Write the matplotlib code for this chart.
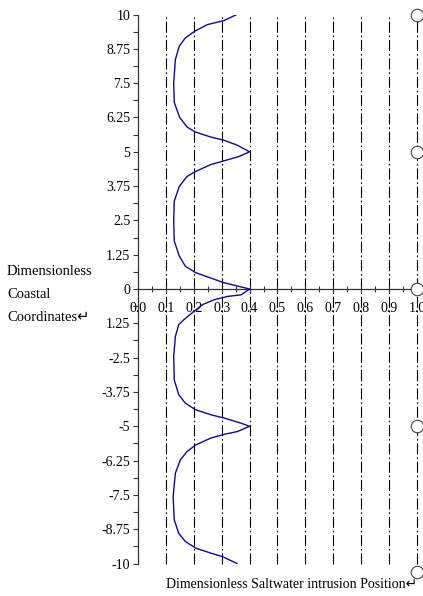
import numpy as np
import matplotlib
matplotlib.use("Agg")
import matplotlib.pyplot as plt
from matplotlib.ticker import FixedLocator, FixedFormatter, MultipleLocator

plt.rcParams["font.family"] = ["Liberation Serif", "DejaVu Sans"]

# curve (x = intrusion position, y = coastal coordinate)
curve_x = [0.354, 0.308, 0.248, 0.203, 0.170, 0.148, 0.134, 0.128, 0.130, 0.149,
           0.176, 0.206, 0.260, 0.308, 0.356, 0.400,
           0.360, 0.308, 0.260, 0.206, 0.176, 0.148, 0.130, 0.128, 0.130, 0.148,
           0.170, 0.206, 0.308, 0.400,
           0.370, 0.321, 0.273, 0.231, 0.200, 0.164, 0.146, 0.134, 0.128, 0.130,
           0.146, 0.170, 0.207, 0.261, 0.309, 0.370, 0.400,
           0.357, 0.315, 0.261, 0.207, 0.176, 0.152, 0.134, 0.126, 0.130, 0.146,
           0.170, 0.207, 0.261, 0.303, 0.355]
curve_y = [10.0, 9.78, 9.63, 9.39, 9.15, 8.85, 8.36, 7.52, 6.80, 6.26,
           5.90, 5.72, 5.54, 5.42, 5.24, 5.00,
           4.82, 4.67, 4.53, 4.28, 4.10, 3.74, 3.20, 2.47, 1.75, 1.20,
           0.83, 0.60, 0.23, 0.00,
           -0.21, -0.27, -0.39, -0.57, -0.82, -1.12, -1.30, -1.73, -2.46, -3.31,
           -3.85, -4.16, -4.40, -4.58, -4.70, -4.89, -5.00,
           -5.19, -5.28, -5.43, -5.68, -5.92, -6.22, -6.71, -7.56, -8.41, -8.90,
           -9.20, -9.44, -9.62, -9.75, -10.0]

grid_x = [0.1, 0.2, 0.3, 0.4, 0.5, 0.6, 0.7, 0.8, 0.9, 1.0]
circle_y = [10, 5, 0, -5, -10.3]

ytick_vals = [10, 8.75, 7.5, 6.25, 5, 3.75, 2.5, 1.25, 0,
              -1.25, -2.5, -3.75, -5, -6.25, -7.5, -8.75, -10]
ytick_labels = ["10", "8.75", "7.5", "6.25", "5", "3.75", "2.5", "1.25", "0",
                "1.25", "-2.5", "-3.75", "-5", "-6.25", "-7.5", "-8.75", "-10"]
xtick_vals = [0.0, 0.1, 0.2, 0.3, 0.4, 0.5, 0.6, 0.7, 0.8, 0.9, 1.0]
xtick_labels = ["0.0", "0.1", "0.2", "0.3", "0.4", "0.5", "0.6", "0.7", "0.8", "0.9", "1.0"]

fig = plt.figure(figsize=(4.23, 5.96), dpi=100)
ax = fig.add_axes([0.3262, 0.0545, 0.6596, 0.9211])
ax.set_xlim(0, 1.0)
ax.set_ylim(-10, 10)

for gx in grid_x:
    ax.plot([gx, gx], [-10, 10], color="black", lw=0.8,
            linestyle=(0, (10, 2.5, 1.5, 2.5)), zorder=1, clip_on=False)

ax.plot(curve_x, curve_y, color="#0c0c8a", lw=1.0, zorder=3)

ax.plot([1.0] * len(circle_y), circle_y, linestyle="none", marker="o", ms=9,
        mfc="white", mec="#444444", mew=0.8, clip_on=False, zorder=4)

for side in ["top", "right"]:
    ax.spines[side].set_visible(False)
ax.spines["bottom"].set_position(("data", 0))
ax.spines["left"].set_color("#333333")
ax.spines["bottom"].set_color("#333333")
ax.spines["left"].set_linewidth(0.9)
ax.spines["bottom"].set_linewidth(0.9)

ax.yaxis.set_major_locator(FixedLocator(ytick_vals))
ax.yaxis.set_major_formatter(FixedFormatter(ytick_labels))
ax.yaxis.set_minor_locator(MultipleLocator(0.625))
ax.xaxis.set_major_locator(FixedLocator(xtick_vals))
ax.xaxis.set_major_formatter(FixedFormatter(xtick_labels))
ax.xaxis.set_minor_locator(MultipleLocator(0.05))

ax.tick_params(axis="y", which="both", direction="out", length=3.5, width=0.8,
               color="#333333", labelsize=10, pad=2)
ax.tick_params(axis="x", which="both", direction="inout", length=4.5, width=0.8,
               color="#333333", labelsize=10, pad=7)

fig.text(7 / 423, 1 - 295 / 596, "Dimensionless\nCoastal\nCoordinates\u21b5",
         ha="left", va="center", fontsize=10.5, linespacing=2.0)
fig.text(292 / 423, 1 - 585 / 596, "Dimensionless Saltwater intrusion Position\u21b5",
         ha="center", va="center", fontsize=10)

fig.savefig("out.png", dpi=100)
